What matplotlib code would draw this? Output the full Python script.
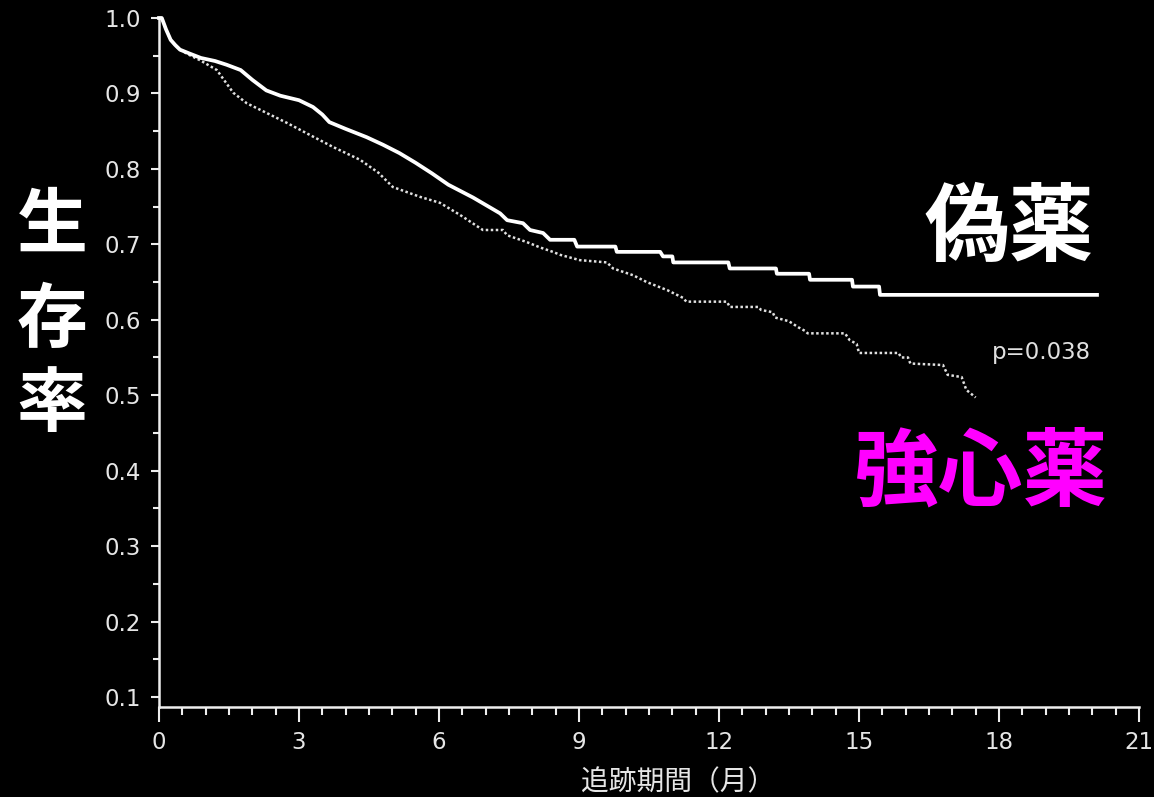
import matplotlib
matplotlib.use("Agg")
import matplotlib.pyplot as plt
from matplotlib.ticker import MultipleLocator

# Kaplan-Meier survival, placebo vs inotrope (months); repeated times mark step corners
placebo_t = [0, 0.06, 0.15, 0.25, 0.35, 0.45, 0.65, 0.9, 1.2, 1.45, 1.75, 2.0, 2.3, 2.6,
             3.0, 3.3, 3.5, 3.65, 4.0, 4.45, 4.8, 5.15, 5.5, 5.85, 6.2, 6.73, 7.2, 7.31,
             7.46, 7.8, 7.95, 8.23, 8.38, 8.9, 8.96, 9.78, 9.81, 10.74, 10.8, 11.0, 11.02,
             12.2, 12.23, 13.22, 13.24, 13.93, 13.95, 14.85, 14.87, 15.43, 15.45, 20.1]
placebo_s = [1.0, 1.0, 0.985, 0.971, 0.964, 0.958, 0.953, 0.947, 0.943, 0.938, 0.931,
             0.918, 0.904, 0.897, 0.891, 0.882, 0.872, 0.862, 0.853, 0.842, 0.832, 0.821,
             0.808, 0.794, 0.779, 0.762, 0.745, 0.741, 0.732, 0.728, 0.719, 0.715, 0.706,
             0.706, 0.697, 0.697, 0.690, 0.690, 0.684, 0.684, 0.676, 0.676, 0.668, 0.668,
             0.661, 0.661, 0.653, 0.653, 0.644, 0.644, 0.633, 0.633]

inotrope_t = [0, 0.06, 0.15, 0.25, 0.35, 0.45, 0.65, 0.88, 1.24, 1.59, 1.88, 2.31, 2.74,
              3.17, 3.73, 4.31, 4.7, 5.01, 5.59, 6.02, 6.45, 6.94, 7.37, 7.46, 7.88, 8.16,
              8.44, 8.6, 9.02, 9.6, 9.73, 10.16, 10.45, 10.9, 11.23, 11.3, 12.17, 12.23,
              12.85, 12.9, 13.15, 13.2, 13.5, 13.7, 13.85, 13.9, 14.7, 14.8, 14.95, 15.0,
              15.85, 15.9, 16.05, 16.1, 16.8, 16.9, 17.2, 17.3, 17.5]
inotrope_s = [1.0, 1.0, 0.985, 0.971, 0.964, 0.958, 0.951, 0.944, 0.931, 0.901, 0.887,
              0.874, 0.861, 0.847, 0.829, 0.812, 0.795, 0.776, 0.763, 0.755, 0.739, 0.719,
              0.719, 0.712, 0.703, 0.696, 0.690, 0.686, 0.679, 0.676, 0.668, 0.659, 0.650,
              0.639, 0.629, 0.624, 0.624, 0.617, 0.617, 0.613, 0.610, 0.603, 0.598, 0.590,
              0.585, 0.582, 0.582, 0.573, 0.568, 0.556, 0.556, 0.550, 0.550, 0.542, 0.540,
              0.527, 0.524, 0.507, 0.497]

x_ticks = [0, 3, 6, 9, 12, 15, 18, 21]
y_ticks = [0.1, 0.2, 0.3, 0.4, 0.5, 0.6, 0.7, 0.8, 0.9, 1.0]

W, H = 1154, 797
fig = plt.figure(figsize=(W / 100, H / 100), dpi=100)
fig.patch.set_facecolor("black")

ax = fig.add_axes([159 / W, 90 / H, 980 / W, 689 / H])
ax.set_facecolor("black")
ax.set_xlim(0, 21)
ax.set_ylim(0.0867, 1.0)

ax.plot(placebo_t, placebo_s, color="white", lw=2.7, clip_on=False,
        solid_joinstyle="round", zorder=3)
ax.plot(inotrope_t, inotrope_s, color="#e0e0e0", lw=1.8, linestyle=(0, (1, 1)),
        dash_capstyle="butt", clip_on=False, zorder=2)

for side in ("top", "right"):
    ax.spines[side].set_visible(False)
for side in ("left", "bottom"):
    ax.spines[side].set_color("#eeeeee")
    ax.spines[side].set_linewidth(1.8)

ax.set_xticks(x_ticks)
ax.set_yticks(y_ticks)
ax.set_yticklabels([f"{v:.1f}" for v in y_ticks])
ax.xaxis.set_minor_locator(MultipleLocator(0.5))
ax.yaxis.set_minor_locator(MultipleLocator(0.05))

ax.tick_params(axis="x", which="major", length=11, width=1.5, color="#eeeeee",
               labelcolor="#e6e6e6", pad=6, labelsize=16.5)
ax.tick_params(axis="x", which="minor", length=6, width=1.5, color="#eeeeee")
ax.tick_params(axis="y", which="major", length=6, width=1.5, color="#eeeeee",
               labelcolor="#e6e6e6", pad=7, labelsize=16.5)
ax.tick_params(axis="y", which="minor", length=4, width=1.5, color="#eeeeee")
for lbl in ax.get_xticklabels() + ax.get_yticklabels():
    lbl.set_family("DejaVu Sans")

cjk = ["Noto Sans CJK JP", "DejaVu Sans"]

# vertical y label, one character per line
for ch, yp in zip("生存率", [226, 321, 405]):
    fig.text(52 / W, 1 - yp / H, ch, ha="center", va="center", fontsize=51,
             fontweight="bold", color="white", family=cjk)

fig.text(678 / W, 1 - 782 / H, "追跡期間（月）", ha="center", va="center",
         fontsize=20, color="#e6e6e6", family=cjk)

fig.text(1009 / W, 1 - 229 / H, "偽薬", ha="center", va="center", fontsize=61,
         fontweight="bold", color="white", family=cjk)
fig.text(981 / W, 1 - 473 / H, "強心薬", ha="center", va="center", fontsize=61,
         fontweight="bold", color="#ff00ff", family=cjk)
fig.text(1041 / W, 1 - 352 / H, "p=0.038", ha="center", va="center",
         fontsize=16.5, color="#e0e0e0", family="DejaVu Sans")

fig.savefig("out.png", dpi=100, facecolor="black")
